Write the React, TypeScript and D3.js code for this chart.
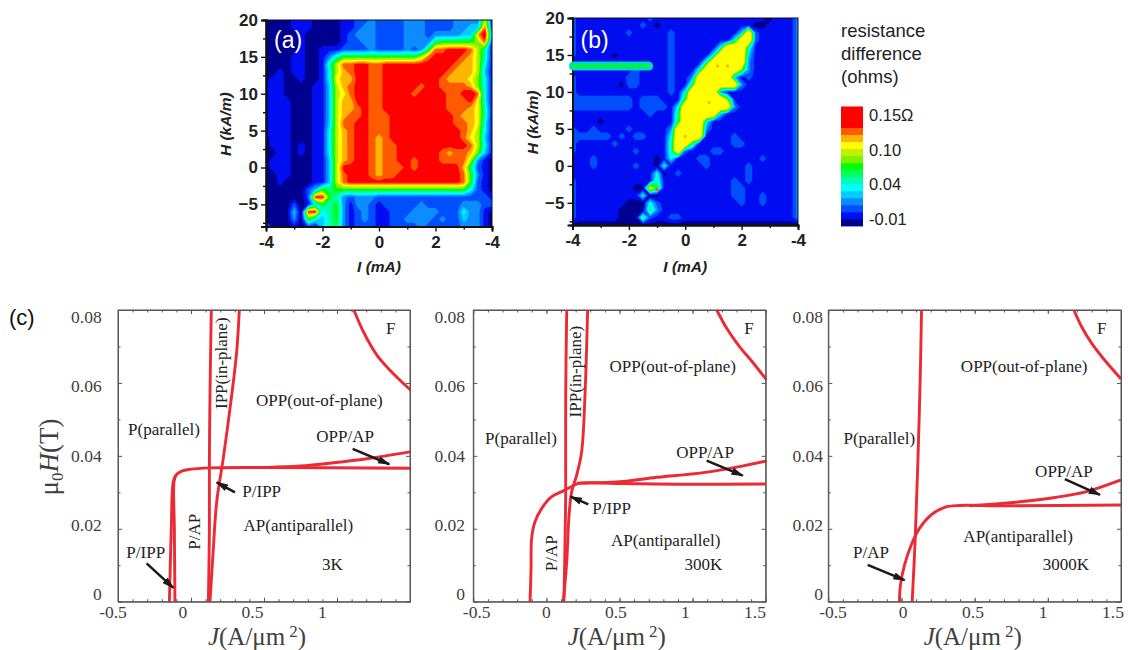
import React, { useEffect, useRef } from 'react'
import * as d3 from 'd3'

// colour levels of the resistance scale, low to high
const levelColors = ['#000090', '#0010f0', '#0050ff', '#0a8cff', '#00ccff', '#00ffff', '#00ffb0', '#00ff60', '#00ff00', '#80f000', '#c0f000', '#ffff00', '#ffb400', '#ff5a00', '#ff0000']
// in (b) the map saturates at yellow, so the edge of the blob stays sharp
const levelColorsB = levelColors.map((c, i) => (i > 11 ? '#ffff00' : c))
// legend bands bottom to top (red and the cyan/green are wider in the original)
const legendBands = [0, 1, 2, 3, 4, 5, 6, 7, 8, 9, 10, 11, 12, 13, 14, 14, 14]
const legendLabels = ['0.15\u03a9', '0.10', '0.04', '-0.01']
const legendTitle = ['resistance', 'difference', '(ohms)']

const mapTicksX = [-4, -2, 0, 2, 4]
const mapTickLabelsX = ['-4', '-2', '0', '2', '-4'] // the last label really is -4 in the figure
const mapMinorX = [-3, -1, 1, 3]
const mapTicksY = [20, 15, 10, 5, 0, -5]
const mapMinorY = [17.5, 12.5, 7.5, 2.5, -2.5, -7.5]

// level per grid point: H from 20 down to -8 (1 kA/m step), I from -4 to 4 (0.25 mA step)
const mapA = [
  '000 011 100 001 122 322 223 332 222 333 3a1',
  '000 011 100 001 123 322 223 332 222 334 4d1',
  '000 001 000 001 233 322 223 332 333 344 cf4',
  '000 001 000 001 223 322 223 333 788 888 9d1',
  '000 001 001 112 222 322 223 237 dde eed a61',
  '000 011 001 368 888 888 888 8ad eee edc a61',
  '000 011 001 6ad dee dde eee eee eee dcc a51',
  '001 011 001 5ac dee dde eee eee eed ccc a41',
  '011 001 001 5bc cee dde eee eee edc ccb 951',
  '111 000 011 4ac dee dde eee ede edd ddc 951',
  '111 000 011 4ab dee dde eee dee eed def d51',
  '111 100 011 4ac cee dde eee eee eed dde b51',
  '111 100 011 4ac cde dde eee eee eed ddc b61',
  '111 100 011 4ac dde ddd eee eee eee dcc b61',
  '111 100 011 4ad dee ddd eee eee eee ddc b51',
  '111 100 011 5ac dee ddd eee eee eee edc a51',
  '011 100 011 5ac dee dcd eee eee eee edb a41',
  '011 101 011 5ac dee dcd dee eee eee eed a51',
  '001 101 011 5ac dee dcd dee eee edc ddc 941',
  '011 100 011 4ac dee dcd dee dee edd dda 310',
  '011 100 011 4ae eee dcd dde dee eee ec7 210',
  '001 100 011 4ad eee dcd dee eee eee ed8 310',
  '001 000 011 4ad eee eee eee eee eee ed8 210',
  '000 000 248 788 888 888 888 888 888 885 210',
  '000 000 2ee 863 233 322 222 222 222 222 221',
  '000 020 158 683 133 212 222 232 222 233 322',
  '000 040 ee5 683 123 211 222 333 322 253 310',
  '000 030 854 683 123 211 223 333 232 243 310',
  '400 010 214 673 122 211 222 232 222 233 310'
]

const mapB = [
  '211 111 111 112 111 111 111 111 111 101 113',
  '211 111 111 121 011 111 111 111 110 011 113',
  '211 111 112 111 112 111 111 111 4f2 111 113',
  '211 101 111 111 112 111 111 115 ff2 111 113',
  '211 111 111 111 112 111 111 5ff f61 111 113',
  '211 111 011 111 112 111 115 fff f41 111 113',
  '111 111 111 111 112 111 16f fff f31 111 113',
  '111 111 111 211 112 111 5ff fff 931 111 113',
  '211 111 112 211 112 113 fff ff4 121 111 113',
  '211 111 102 211 112 117 fff fff 311 111 113',
  '211 111 111 111 112 15f fff 311 111 111 113',
  '222 222 222 122 211 18f fff f91 111 111 113',
  '222 222 222 122 221 5ff fff ff3 111 111 113',
  '111 111 111 112 111 7ff fff 411 111 111 113',
  '111 101 111 111 111 7ff f51 111 111 111 113',
  '211 211 112 111 113 fff f31 111 111 111 113',
  '222 222 121 221 115 fff f11 112 111 111 113',
  '211 111 211 111 116 ff7 111 112 211 111 113',
  '211 111 111 211 116 f21 112 211 111 111 113',
  '111 211 111 111 015 111 221 111 111 211 113',
  '111 211 111 211 051 111 121 111 121 111 113',
  '111 111 111 111 501 211 111 111 121 111 113',
  '211 111 111 111 611 111 111 112 121 111 113',
  '211 111 111 00c 811 111 111 112 211 111 113',
  '211 111 111 150 011 111 111 112 211 211 113',
  '211 111 110 005 211 111 111 111 211 211 113',
  '211 111 100 007 311 111 111 111 111 111 113',
  '211 111 100 072 112 211 111 111 111 111 113',
  '000 000 000 000 000 000 000 000 000 000 000'
]
// green streak in (b): I from, I to, H
const streakB = [-4, -1.3, 13.5]
// small hot spots in (b): I, H, colour
const spotsB: any[] = [
  [0, 4, '#ffb400'], [-1, -3.2, '#ff5a00'], [1.15, 13.5, '#ffb400'], [1.5, 13.5, '#ffb400'], [0.85, 8.6, '#ffb400']
]

const diagramTicksX = [-0.5, 0, 0.5, 1, 1.5]
const diagramMinorX = d3.range(-0.4, 1.5, 0.1)
const diagramTicksY = [0, 0.02, 0.04, 0.06, 0.08]
const diagramMinorY = [0.01, 0.03, 0.05, 0.07]

// boundaries as [J, mu0 H] readings
const k3Curves = [
  [[-0.148, 0], [-0.135, 0.02], [-0.121, 0.033], [-0.103, 0.0347], [-0.064, 0.0358], [-0.007, 0.0363], [0.13, 0.0367], [0.518, 0.0368], [1.5, 0.0366]],
  [[-0.11, 0], [-0.114, 0.02], [-0.116, 0.033], [-0.103, 0.0347]],
  [[0.518, 0.0368], [0.747, 0.0372], [0.975, 0.0381], [1.203, 0.0392], [1.5, 0.0411]],
  [[0.119, 0], [0.126, 0.02], [0.126, 0.0384], [0.13, 0.0567], [0.139, 0.08]],
  [[0.13, 0], [0.153, 0.0146], [0.176, 0.0274], [0.221, 0.0393], [0.279, 0.0567], [0.313, 0.0686], [0.331, 0.08]],
  [[1.116, 0.08], [1.18, 0.0741], [1.272, 0.0677], [1.363, 0.0635], [1.505, 0.058]]
]
const k300Curves = [
  [[-0.112, 0], [-0.105, 0.0091], [-0.101, 0.0174], [-0.078, 0.0219], [-0.032, 0.0256], [0.036, 0.0288], [0.116, 0.0304], [0.173, 0.0316], [0.23, 0.0325], [0.503, 0.0324], [0.96, 0.0322], [1.5, 0.0323]],
  [[0.207, 0.0325], [0.503, 0.0329], [0.731, 0.034], [1.074, 0.0354], [1.302, 0.0369], [1.507, 0.0386]],
  [[0.12, 0], [0.129, 0.0201], [0.132, 0.0302], [0.132, 0.0567], [0.139, 0.08]],
  [[0.116, 0], [0.139, 0.011], [0.155, 0.0238], [0.173, 0.0302], [0.207, 0.0347], [0.241, 0.0411], [0.264, 0.0567], [0.282, 0.08]],
  [[1.165, 0.08], [1.233, 0.075], [1.313, 0.0704], [1.416, 0.0654], [1.507, 0.0608]]
]
const k3000Curves = [
  [[0.073, 0], [0.094, 0.0174], [0.112, 0.0384], [0.128, 0.0613], [0.137, 0.08]],
  [[-0.014, 0], [-0.007, 0.0046], [0.021, 0.0101], [0.066, 0.0155], [0.123, 0.0201], [0.203, 0.0238], [0.295, 0.0259], [0.397, 0.0264], [0.694, 0.0263], [1.5, 0.0265]],
  [[0.466, 0.0263], [0.808, 0.0274], [1.037, 0.0285], [1.265, 0.0302], [1.5, 0.0334]],
  [[1.178, 0.08], [1.231, 0.0754], [1.299, 0.0709], [1.379, 0.0667], [1.5, 0.0611]]
]

// arrows: [J from, H from, J to, H to]
const k3Arrows = [[1.107, 0.0419, 1.358, 0.0377], [-0.304, 0.0105, -0.121, 0.0038], [0.301, 0.03, 0.176, 0.0327]]
const k300Arrows = [[1.096, 0.0387, 1.343, 0.0346], [0.287, 0.0267, 0.166, 0.0288]]
const k3000Arrows = [[1.116, 0.0336, 1.356, 0.0293], [-0.231, 0.0101, 0.021, 0.0059]]

// region names: [text, J, H, rotated]
const k3Labels: any[] = [
  ['P(parallel)', -0.185, 0.0473], ['OPP(out-of-plane)', 0.879, 0.0552], ['IPP(in-plane)', 0.21, 0.0654, true],
  ['OPP/AP', 1.055, 0.0453], ['P/IPP', 0.484, 0.0302], ['P/AP', 0.023, 0.0192, true],
  ['AP(antiparallel)', 0.735, 0.0208], ['3K', 0.968, 0.0102], ['P/IPP', -0.31, 0.0135], ['F', 1.368, 0.075]
]
const k300Labels: any[] = [
  ['P(parallel)', -0.174, 0.0448], ['OPP(out-of-plane)', 0.864, 0.0645], ['IPP(in-plane)', 0.2, 0.0631, true],
  ['OPP/AP', 1.085, 0.0409], ['P/IPP', 0.446, 0.0256], ['P/AP', 0.031, 0.0133, true],
  ['AP(antiparallel)', 0.816, 0.0167], ['300K', 1.073, 0.0101], ['F', 1.386, 0.075]
]
const k3000Labels: any[] = [
  ['P(parallel)', -0.151, 0.0448], ['OPP(out-of-plane)', 0.838, 0.0645], ['OPP/AP', 1.11, 0.0358],
  ['AP(antiparallel)', 0.797, 0.0178], ['3000K', 1.123, 0.0101], ['P/AP', -0.208, 0.0134], ['F', 1.368, 0.075]
]

const SANS = '"Liberation Sans", Arial, sans-serif'
const SERIF = '"Liberation Serif", "Times New Roman", serif'
const RED = '#ec2a35'
const GREY = '#404040'

function drawMap(svg: any, id: string, rows: string[], colors: string[], left: number, right: number, top: number, bottom: number, name: string) {
  const x = d3.scaleLinear().domain([-4, 4]).range([left, right])
  const y = d3.scaleLinear().domain([-8, 20]).range([bottom, top])

  const grid = rows.map((r) => r.replace(/ /g, ''))
  const nx = grid[0].length
  const ny = grid.length
  const values: number[] = []
  grid.forEach((r) => r.split('').forEach((c) => values.push(parseInt(c, 16))))

  svg.append('clipPath').attr('id', id).append('rect')
    .attr('x', left).attr('y', top).attr('width', right - left).attr('height', bottom - top)

  const clipped = svg.append('g').attr('clip-path', `url(#${id})`)
  const map = clipped.append('g').attr('filter', 'url(#soft)')

  map.append('rect').attr('x', left - 5).attr('y', top - 5)
    .attr('width', right - left + 10).attr('height', bottom - top + 10).attr('fill', colors[0])

  // grid point i sits at i + 0.5 in contour coordinates
  const gx = d3.scaleLinear().domain([0.5, nx - 0.5]).range([left, right])
  const gy = d3.scaleLinear().domain([0.5, ny - 0.5]).range([top, bottom])
  const path = d3.geoPath(d3.geoTransform({
    point(a: number, b: number) { (this as any).stream.point(gx(a), gy(b)) }
  }))
  const thresholds = d3.range(1, colors.length).map((l) => l - 0.5)
  const bands = d3.contours().size([nx, ny]).thresholds(thresholds)(values)
  map.selectAll('path.band').data(bands).join('path')
    .attr('class', 'band')
    .attr('d', path as any)
    .attr('fill', (d: any, i: number) => colors[i + 1])

  // frame
  svg.append('rect').attr('x', left).attr('y', top).attr('width', right - left).attr('height', bottom - top)
    .attr('fill', 'none').attr('stroke', '#111').attr('stroke-width', 1)

  // axes
  const ax = svg.append('g').attr('transform', `translate(0,${bottom})`)
    .call(d3.axisBottom(x).tickValues(mapTicksX).tickSize(5).tickPadding(4).tickFormat((d, i) => mapTickLabelsX[i]))
  const axm = svg.append('g').attr('transform', `translate(0,${bottom})`)
    .call(d3.axisBottom(x).tickValues(mapMinorX).tickSize(3).tickFormat(() => ''))
  const ay = svg.append('g').attr('transform', `translate(${left},0)`)
    .call(d3.axisLeft(y).tickValues(mapTicksY).tickSize(5).tickPadding(3))
  const aym = svg.append('g').attr('transform', `translate(${left},0)`)
    .call(d3.axisLeft(y).tickValues(mapMinorY).tickSize(3).tickFormat(() => ''))
  ;[ax, axm, ay, aym].forEach((a) => {
    a.selectAll('path').attr('stroke', '#111').attr('stroke-width', 1.8)
    a.selectAll('line').attr('stroke', '#111').attr('stroke-width', 1.4)
    a.selectAll('text').attr('font-family', SANS).attr('font-weight', 'bold').attr('font-size', 17).attr('fill', '#222')
  })

  // names
  svg.append('text').text(name).attr('x', left + 8).attr('y', 48)
    .attr('font-family', SANS).attr('font-size', 23).attr('fill', '#fff')
  svg.append('text').text('I (mA)').attr('x', (left + right) / 2).attr('y', 272).attr('text-anchor', 'middle')
    .attr('font-family', SANS).attr('font-size', 15.5).attr('font-weight', 'bold').attr('font-style', 'italic').attr('fill', '#222')
  svg.append('text').text('H (kA/m)')
    .attr('transform', `translate(${left - 35},${(top + bottom) / 2 + 1}) rotate(-90)`).attr('text-anchor', 'middle')
    .attr('font-family', SANS).attr('font-size', 15.5).attr('font-weight', 'bold').attr('font-style', 'italic').attr('fill', '#222')

  return { x, y }
}

function drawLegend(svg: any) {
  const y = d3.scaleBand<number>().domain(d3.range(legendBands.length)).range([226, 106.5])
  svg.append('g').selectAll('rect').data(legendBands).join('rect')
    .attr('x', 841).attr('width', 22)
    .attr('y', (d: number, i: number) => y(i))
    .attr('height', y.bandwidth() + 0.4)
    .attr('fill', (d: number) => levelColors[d])

  const labelY = d3.scalePoint<string>().domain(legendLabels).range([121, 225])
  svg.append('g').selectAll('text').data(legendLabels).join('text')
    .text((d: string) => d)
    .attr('x', 869).attr('y', (d: string) => labelY(d))
    .attr('font-family', SANS).attr('font-size', 16.5).attr('fill', '#222')

  svg.append('g').selectAll('text').data(legendTitle).join('text')
    .text((d: string) => d)
    .attr('x', 841).attr('y', (d: string, i: number) => 37 + i * 23)
    .attr('font-family', SANS).attr('font-size', 18.5).attr('fill', '#222')
}

function drawDiagram(svg: any, id: string, left: number, right: number, curves: number[][][], arrows: number[][], labels: any[],
  yLabelRight: number, xLabelLeft: number, xLabelRight: number, showLast: boolean, titleX: number) {
  const top = 310
  const bottom = 601.7
  const x = d3.scaleLinear().domain([-0.5, 1.5]).range([left, right])
  const y = d3.scaleLinear().domain([0, 0.08]).range([bottom, top])
  // tick labels in the scan sit a little off their ticks
  const xLab = d3.scaleLinear().domain([-0.5, 1.5]).range([xLabelLeft, xLabelRight])
  const yLab = d3.scaleLinear().domain([0, 0.08]).range([594, 316.7])

  svg.append('clipPath').attr('id', id).append('rect')
    .attr('x', left - 1).attr('y', top - 1).attr('width', right - left + 2).attr('height', bottom - top + 2)

  // ticks on all four sides, pointing in
  const sides = [
    [d3.axisBottom(x), `translate(0,${bottom})`],
    [d3.axisTop(x), `translate(0,${top})`],
    [d3.axisLeft(y), `translate(${left},0)`],
    [d3.axisRight(y), `translate(${right},0)`]
  ] as any[]
  sides.forEach(([axis, tr], i) => {
    const major = i < 2 ? diagramTicksX : diagramTicksY
    const minor = i < 2 ? diagramMinorX : diagramMinorY
    const g = svg.append('g').attr('transform', tr)
    g.call(axis.tickValues(major).tickSize(-4).tickSizeOuter(0).tickFormat(() => ''))
    const m = svg.append('g').attr('transform', tr)
    m.call(axis.tickValues(minor).tickSize(-2.5).tickSizeOuter(0).tickFormat(() => ''))
    m.select('path').remove()
    ;[g, m].forEach((s) => s.selectAll('line,path').attr('stroke', '#555').attr('stroke-width', 1))
  })

  // tick labels
  svg.append('g').selectAll('text').data(diagramTicksY).join('text')
    .text((d: number) => (d === 0 ? '0' : d.toFixed(2)))
    .attr('x', yLabelRight).attr('y', (d: number) => yLab(d)).attr('dy', '0.36em').attr('text-anchor', 'end')
    .attr('font-family', SERIF).attr('font-size', 17.5).attr('fill', GREY)
  svg.append('g').selectAll('text').data(showLast ? diagramTicksX : diagramTicksX.slice(0, 4)).join('text')
    .text((d: number) => String(d))
    .attr('x', (d: number) => xLab(d)).attr('y', 618).attr('text-anchor', 'middle')
    .attr('font-family', SERIF).attr('font-size', 17.5).attr('fill', GREY)

  // curves
  const line = d3.line<number[]>().x((d) => x(d[0])).y((d) => y(d[1])).curve(d3.curveCatmullRom.alpha(0.5))
  svg.append('g').attr('clip-path', `url(#${id})`).selectAll('path').data(curves).join('path')
    .attr('d', (d: number[][]) => line(d))
    .attr('fill', 'none').attr('stroke', RED).attr('stroke-width', 2.9)

  // arrows
  svg.append('g').selectAll('line').data(arrows).join('line')
    .attr('x1', (d: number[]) => x(d[0])).attr('y1', (d: number[]) => y(d[1]))
    .attr('x2', (d: number[]) => x(d[2])).attr('y2', (d: number[]) => y(d[3]))
    .attr('stroke', '#1a1a1a').attr('stroke-width', 2.5).attr('marker-end', 'url(#head)')

  // region names
  svg.append('g').selectAll('text').data(labels).join('text')
    .text((d: any) => d[0])
    .attr('transform', (d: any) => `translate(${x(d[1])},${y(d[2])})${d[3] ? ' rotate(-90)' : ''}`)
    .attr('dy', '0.33em').attr('text-anchor', 'middle')
    .attr('font-family', SERIF).attr('font-size', 17).attr('fill', '#222')

  // x title
  const xt = svg.append('text').attr('x', titleX).attr('y', 645).attr('text-anchor', 'middle')
    .attr('font-family', SERIF).attr('font-size', 25).attr('fill', GREY)
  xt.append('tspan').attr('font-style', 'italic').text('J')
  xt.append('tspan').text('(A/\u03bcm')
  xt.append('tspan').attr('font-size', 17).attr('dx', 4).attr('dy', -8).text('2')
  xt.append('tspan').attr('dy', 8).text(')')

  // frame goes over the curve ends
  svg.append('rect').attr('x', left).attr('y', top).attr('width', right - left).attr('height', bottom - top)
    .attr('fill', 'none').attr('stroke', '#555').attr('stroke-width', 1)
}

const App = () => {
  const ref = useRef<SVGSVGElement>(null)

  useEffect(() => {
    const svg = d3.select(ref.current)
    svg.selectAll('*').remove()

    const defs = svg.append('defs')
    defs.append('filter').attr('id', 'soft').append('feGaussianBlur').attr('stdDeviation', 0.7)
    defs.append('marker').attr('id', 'head').attr('viewBox', '0 0 10 6').attr('refX', 9).attr('refY', 3)
      .attr('markerWidth', 5).attr('markerHeight', 3.4).attr('orient', 'auto')
      .append('path').attr('d', 'M0,0L10,3L0,6Z').attr('fill', '#1a1a1a')

    drawMap(svg, 'clipA', mapA, levelColors, 266, 492, 20, 226.5, '(a)')
    const b = drawMap(svg, 'clipB', mapB, levelColorsB, 572.5, 798, 18, 225, '(b)')

    // streak and hot spots in (b), on top of the map
    const streak = svg.append('g').attr('filter', 'url(#soft)')
    const [i0, i1, h] = streakB
    ;[['#00d8c0', 9], ['#00f050', 4]].forEach(([c, w]) => {
      streak.append('line')
        .attr('x1', b.x(i0) + 1).attr('x2', b.x(i1))
        .attr('y1', b.y(h)).attr('y2', b.y(h))
        .attr('stroke', c as string).attr('stroke-width', w as number).attr('stroke-linecap', 'round')
    })
    streak.selectAll('circle').data(spotsB).join('circle')
      .attr('cx', (d: any) => b.x(d[0])).attr('cy', (d: any) => b.y(d[1]))
      .attr('r', 1.6).attr('fill', (d: any) => d[2])

    drawLegend(svg)

    drawDiagram(svg, 'clip3k', 118, 410, k3Curves, k3Arrows, k3Labels, 101.7, 113, 392, false, 257)
    drawDiagram(svg, 'clip300k', 473.3, 765.7, k300Curves, k300Arrows, k300Labels, 465, 476.7, 755, true, 616.7)
    drawDiagram(svg, 'clip3000k', 828.3, 1121, k3000Curves, k3000Arrows, k3000Labels, 823, 833, 1113, true, 972.7)

    svg.append('text').text('(c)').attr('x', 9).attr('y', 325)
      .attr('font-family', SANS).attr('font-size', 22).attr('fill', '#111')

    const yt = svg.append('text').attr('transform', 'translate(58,457) rotate(-90)').attr('text-anchor', 'middle')
      .attr('font-family', SERIF).attr('font-size', 27).attr('fill', GREY)
    yt.append('tspan').text('\u03bc')
    yt.append('tspan').attr('font-size', 17).attr('dy', 5).text('0')
    yt.append('tspan').attr('font-style', 'italic').attr('dy', -5).text('H')
    yt.append('tspan').text('(T)')
  }, [])

  return (
    <svg ref={ref} width={1128} height={650}
      style={{ position: 'absolute', left: 0, top: 0, background: '#fff' }} />
  )
}

export default App
